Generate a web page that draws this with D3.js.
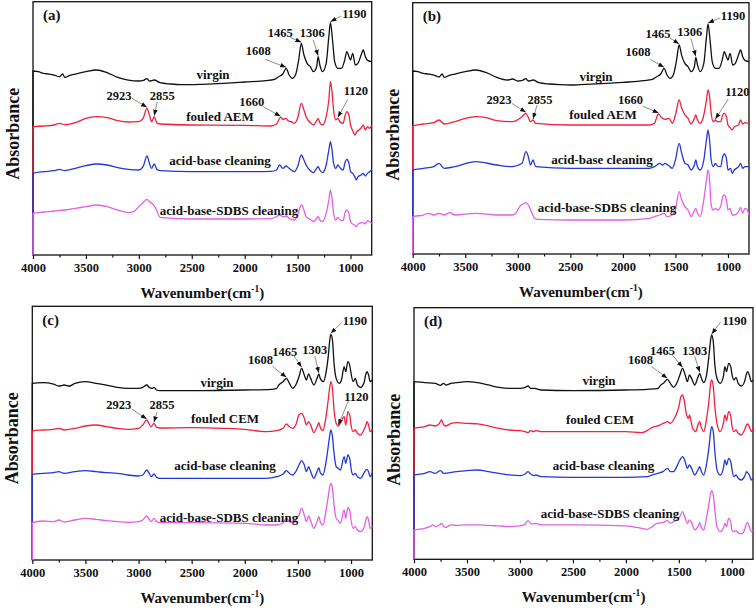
<!DOCTYPE html>
<html><head><meta charset="utf-8">
<script src="https://cdn.jsdelivr.net/npm/d3@7"></script>
<style>body{margin:0;background:#fff}svg{display:block}</style>
</head><body>
<svg id="chart" width="756" height="611"></svg>
<script>
// ---------------- data ----------------
const majorTicks = [4000,3500,3000,2500,2000,1500,1000];
const minorTicks = [3750,3250,2750,2250,1750,1250];
const panelTags = ["(a)","(b)","(c)","(d)"];
const namesAEM = ["virgin","fouled AEM","acid-base cleaning","acid-base-SDBS cleaning"];
const namesCEM = ["virgin","fouled CEM","acid-base cleaning","acid-base-SDBS cleaning"];
const xTitle = "Wavenumber(cm";
const yTitle = "Absorbance";

// (a) AEM
const a_virgin = [[4000,.552],[3950,.550],[3900,.545],[3850,.543],[3800,.540],[3750,.535],[3720,.543],[3700,.533],[3650,.539],[3600,.543],[3500,.550],[3400,.555],[3300,.547],[3200,.533],[3100,.525],[3000,.522],[2950,.525],[2923,.529],[2900,.522],[2855,.525],[2800,.517],[2700,.513],[2600,.511],[2500,.511],[2400,.512],[2200,.515],[2000,.519],[1800,.523],[1720,.527],[1680,.535],[1640,.543],[1608,.560],[1580,.540],[1550,.530],[1520,.540],[1490,.585],[1465,.635],[1440,.600],[1410,.575],[1380,.565],[1350,.550],[1320,.565],[1306,.595],[1290,.570],[1265,.550],[1230,.575],[1205,.655],[1190,.697],[1170,.645],[1150,.580],[1120,.560],[1085,.560],[1055,.585],[1035,.610],[1015,.595],[1000,.585],[980,.605],[955,.570],[930,.575],[900,.600],[880,.615],[860,.595],[835,.583],[800,.580]];
const a_fouled = [[4000,.385],[3900,.387],[3800,.390],[3750,.395],[3700,.391],[3600,.397],[3500,.410],[3400,.415],[3300,.412],[3200,.403],[3100,.399],[3000,.400],[2960,.410],[2923,.440],[2900,.420],[2880,.400],[2855,.415],[2830,.397],[2800,.393],[2500,.390],[2000,.389],[1750,.387],[1700,.393],[1660,.413],[1640,.407],[1608,.410],[1590,.403],[1560,.400],[1530,.395],[1500,.410],[1465,.455],[1440,.435],[1420,.415],[1380,.397],[1350,.390],[1320,.403],[1306,.410],[1290,.397],[1265,.390],[1230,.415],[1205,.465],[1190,.520],[1175,.490],[1160,.435],[1140,.405],[1120,.410],[1100,.400],[1070,.395],[1050,.420],[1035,.430],[1015,.420],[1000,.390],[990,.380],[975,.370],[960,.360],[940,.370],[920,.375],[890,.385],[880,.390],[860,.375],[840,.385],[820,.380],[800,.390]];
const a_acidbase = [[4000,.245],[3900,.250],[3800,.253],[3750,.257],[3700,.253],[3600,.260],[3500,.268],[3400,.273],[3300,.270],[3200,.262],[3100,.257],[3000,.255],[2960,.265],[2923,.297],[2900,.275],[2880,.260],[2855,.273],[2830,.257],[2800,.253],[2500,.250],[2000,.250],[1750,.251],[1700,.255],[1670,.270],[1640,.260],[1608,.267],[1580,.260],[1530,.250],[1500,.265],[1465,.300],[1440,.285],[1420,.270],[1380,.253],[1350,.247],[1320,.260],[1306,.265],[1290,.255],[1265,.247],[1230,.270],[1205,.315],[1190,.340],[1175,.315],[1160,.275],[1140,.260],[1120,.270],[1100,.262],[1070,.255],[1050,.280],[1035,.287],[1015,.275],[1000,.250],[980,.245],[960,.235],[945,.225],[930,.235],[900,.240],[880,.245],[860,.237],[840,.245],[820,.250],[800,.255]];
const a_sdbs = [[4000,.125],[3900,.129],[3800,.132],[3700,.135],[3600,.140],[3500,.145],[3400,.150],[3300,.145],[3200,.135],[3100,.127],[3050,.130],[3000,.145],[2960,.157],[2923,.167],[2900,.160],[2870,.153],[2840,.140],[2800,.113],[2500,.108],[2000,.108],[1750,.109],[1700,.115],[1670,.120],[1640,.115],[1608,.117],[1580,.110],[1530,.105],[1500,.120],[1465,.150],[1440,.135],[1420,.115],[1380,.107],[1350,.100],[1320,.110],[1306,.115],[1290,.105],[1265,.100],[1230,.125],[1205,.165],[1190,.195],[1175,.170],[1160,.125],[1140,.105],[1120,.113],[1100,.105],[1070,.103],[1050,.130],[1035,.135],[1015,.125],[1000,.100],[980,.093],[960,.090],[945,.085],[920,.095],[880,.097],[860,.093],[840,.103],[820,.100],[800,.095]];

// (b) AEM
const b_virgin = [[4000,.549],[3950,.547],[3900,.542],[3850,.540],[3800,.537],[3750,.531],[3720,.540],[3700,.530],[3650,.536],[3600,.540],[3500,.547],[3400,.552],[3300,.544],[3200,.530],[3100,.522],[3050,.525],[3000,.519],[2950,.522],[2923,.526],[2900,.519],[2855,.522],[2800,.514],[2700,.510],[2600,.508],[2500,.507],[2400,.508],[2200,.511],[2000,.515],[1800,.520],[1720,.524],[1680,.532],[1640,.540],[1608,.557],[1580,.537],[1550,.527],[1520,.537],[1490,.580],[1465,.627],[1440,.595],[1410,.572],[1380,.562],[1350,.547],[1320,.562],[1306,.590],[1290,.567],[1265,.547],[1230,.572],[1205,.650],[1190,.690],[1170,.640],[1150,.577],[1120,.557],[1085,.557],[1055,.582],[1035,.607],[1015,.592],[1000,.582],[980,.602],[955,.567],[930,.572],[900,.597],[880,.612],[860,.592],[835,.580],[800,.577]];
const b_fouled = [[4000,.384],[3900,.390],[3800,.394],[3750,.402],[3700,.390],[3600,.397],[3500,.407],[3400,.412],[3300,.409],[3200,.400],[3050,.397],[2960,.412],[2923,.422],[2900,.410],[2880,.397],[2855,.402],[2830,.392],[2500,.387],[2000,.387],[1750,.387],[1700,.392],[1670,.417],[1660,.420],[1640,.412],[1600,.404],[1560,.407],[1530,.392],[1500,.417],[1465,.462],[1440,.437],[1410,.417],[1380,.407],[1350,.390],[1320,.407],[1306,.417],[1290,.402],[1265,.392],[1230,.417],[1205,.462],[1190,.492],[1175,.472],[1160,.422],[1140,.397],[1120,.402],[1100,.397],[1070,.397],[1050,.417],[1035,.422],[1015,.412],[1000,.387],[975,.377],[960,.372],[940,.382],[900,.387],[880,.402],[860,.390],[840,.394],[800,.392]];
const b_acidbase = [[4000,.252],[3900,.257],[3800,.262],[3750,.272],[3700,.257],[3600,.262],[3400,.277],[3200,.267],[3050,.262],[2960,.272],[2923,.307],[2900,.292],[2880,.267],[2855,.282],[2830,.262],[2500,.257],[1750,.257],[1700,.262],[1650,.272],[1620,.267],[1600,.272],[1560,.264],[1530,.257],[1500,.282],[1465,.332],[1440,.302],[1410,.272],[1380,.267],[1350,.252],[1320,.267],[1306,.282],[1290,.262],[1265,.252],[1230,.282],[1205,.342],[1190,.372],[1175,.342],[1160,.282],[1140,.262],[1120,.272],[1100,.264],[1070,.262],[1050,.292],[1035,.300],[1015,.287],[1000,.252],[975,.257],[960,.242],[940,.252],[900,.262],[880,.272],[860,.257],[840,.262],[800,.262]];
const b_sdbs = [[4000,.112],[3900,.117],[3850,.122],[3800,.117],[3750,.122],[3700,.117],[3650,.124],[3600,.117],[3400,.122],[3200,.117],[3050,.117],[3020,.122],[3000,.132],[2970,.147],[2950,.150],[2923,.154],[2900,.147],[2870,.127],[2840,.107],[2800,.104],[2500,.102],[2000,.102],[1750,.107],[1700,.112],[1650,.117],[1608,.122],[1580,.112],[1530,.117],[1500,.132],[1465,.187],[1440,.162],[1410,.142],[1380,.132],[1350,.112],[1320,.130],[1306,.137],[1290,.122],[1265,.112],[1230,.162],[1205,.222],[1190,.252],[1175,.222],[1160,.147],[1140,.132],[1120,.137],[1100,.132],[1070,.142],[1050,.172],[1035,.177],[1015,.162],[1000,.132],[980,.137],[960,.117],[940,.117],[900,.127],[880,.140],[860,.122],[840,.137],[820,.134],[800,.117]];

// (c) CEM
const c_virgin = [[4000,.530],[3900,.532],[3800,.528],[3750,.522],[3700,.525],[3650,.522],[3600,.530],[3500,.535],[3400,.530],[3300,.525],[3200,.518],[3100,.515],[3000,.515],[2960,.518],[2923,.525],[2900,.518],[2870,.515],[2855,.518],[2830,.510],[2800,.508],[2500,.508],[2000,.510],[1750,.512],[1700,.515],[1680,.525],[1640,.535],[1608,.545],[1580,.530],[1550,.515],[1520,.525],[1490,.550],[1465,.575],[1440,.555],[1420,.540],[1400,.558],[1380,.545],[1350,.525],[1320,.545],[1303,.558],[1290,.545],[1260,.535],[1240,.555],[1215,.610],[1200,.660],[1190,.677],[1175,.660],[1160,.590],[1140,.545],[1110,.530],[1090,.540],[1065,.580],[1050,.565],[1030,.595],[1010,.580],[1000,.560],[980,.535],[960,.545],[940,.525],[910,.518],[880,.530],[860,.558],[850,.565],[835,.555],[820,.535],[800,.540]];
const c_fouled = [[4000,.387],[3900,.390],[3800,.392],[3750,.395],[3700,.390],[3600,.395],[3500,.402],[3400,.405],[3300,.400],[3200,.395],[3100,.392],[3000,.395],[2960,.405],[2923,.420],[2900,.408],[2880,.400],[2855,.410],[2830,.398],[2800,.396],[2500,.397],[2200,.395],[2000,.392],[1800,.385],[1700,.388],[1640,.395],[1608,.408],[1580,.400],[1550,.395],[1520,.405],[1490,.435],[1465,.440],[1440,.425],[1420,.405],[1400,.415],[1380,.405],[1350,.382],[1320,.400],[1303,.412],[1290,.398],[1265,.388],[1240,.420],[1215,.480],[1200,.520],[1190,.535],[1175,.515],[1160,.450],[1140,.410],[1120,.402],[1100,.410],[1065,.430],[1050,.405],[1030,.445],[1010,.430],[1000,.405],[980,.385],[960,.390],[940,.380],[910,.375],[880,.390],[860,.405],[850,.415],[835,.405],[820,.385],[800,.390]];
const c_acidbase = [[4000,.257],[3900,.260],[3800,.262],[3750,.265],[3700,.260],[3600,.265],[3500,.268],[3400,.265],[3300,.262],[3200,.260],[3100,.255],[3000,.252],[2960,.255],[2923,.270],[2900,.260],[2880,.250],[2855,.258],[2830,.248],[2800,.245],[2500,.245],[2000,.245],[1800,.245],[1700,.250],[1640,.258],[1608,.268],[1580,.260],[1550,.255],[1520,.265],[1490,.285],[1465,.298],[1440,.285],[1420,.265],[1400,.280],[1380,.265],[1350,.245],[1320,.265],[1303,.277],[1290,.262],[1265,.255],[1240,.285],[1215,.340],[1200,.375],[1190,.390],[1175,.370],[1160,.320],[1140,.280],[1120,.275],[1100,.270],[1065,.310],[1050,.290],[1030,.315],[1010,.300],[1000,.275],[980,.255],[960,.260],[940,.250],[910,.245],[880,.260],[860,.270],[850,.272],[835,.265],[820,.250],[800,.262]];
const c_sdbs = [[4000,.112],[3900,.117],[3800,.115],[3750,.120],[3700,.114],[3600,.120],[3500,.125],[3400,.122],[3300,.118],[3200,.115],[3100,.113],[3000,.115],[2960,.120],[2923,.132],[2900,.122],[2880,.115],[2855,.125],[2830,.115],[2800,.112],[2500,.112],[2000,.110],[1800,.105],[1700,.105],[1640,.112],[1608,.125],[1580,.115],[1550,.112],[1520,.120],[1490,.135],[1465,.155],[1440,.135],[1420,.115],[1400,.132],[1380,.118],[1350,.095],[1320,.115],[1303,.130],[1290,.115],[1265,.105],[1240,.140],[1215,.190],[1200,.220],[1190,.230],[1175,.215],[1160,.165],[1140,.125],[1120,.118],[1100,.110],[1065,.150],[1050,.125],[1030,.158],[1010,.145],[1000,.120],[980,.095],[960,.100],[940,.090],[910,.085],[880,.095],[860,.120],[850,.130],[835,.120],[820,.095],[800,.100]];

// (d) CEM
const d_virgin = [[4000,.533],[3900,.530],[3800,.528],[3750,.522],[3720,.528],[3700,.523],[3650,.528],[3600,.530],[3500,.533],[3400,.530],[3300,.523],[3200,.516],[3100,.513],[3000,.513],[2950,.516],[2923,.520],[2900,.513],[2860,.513],[2830,.510],[2800,.508],[2500,.506],[2000,.508],[1800,.510],[1700,.512],[1670,.523],[1640,.530],[1608,.540],[1580,.528],[1550,.516],[1520,.528],[1490,.553],[1465,.573],[1440,.553],[1420,.533],[1400,.553],[1380,.543],[1350,.523],[1320,.546],[1303,.558],[1290,.546],[1265,.530],[1240,.550],[1215,.613],[1200,.658],[1190,.673],[1175,.653],[1160,.583],[1140,.543],[1110,.528],[1080,.548],[1065,.578],[1050,.563],[1030,.588],[1010,.578],[1000,.558],[980,.538],[960,.546],[940,.528],[910,.520],[880,.533],[860,.558],[850,.563],[835,.553],[815,.533],[800,.538]];
const d_fouled = [[4000,.393],[3900,.398],[3850,.403],[3800,.400],[3760,.408],[3740,.418],[3720,.403],[3700,.400],[3650,.408],[3600,.410],[3500,.408],[3400,.406],[3300,.400],[3200,.393],[3100,.388],[3000,.386],[2950,.383],[2923,.380],[2900,.386],[2870,.383],[2850,.386],[2800,.383],[2500,.383],[2000,.383],[1850,.380],[1800,.386],[1750,.396],[1700,.400],[1660,.406],[1630,.410],[1608,.413],[1580,.408],[1550,.418],[1520,.438],[1500,.458],[1480,.488],[1465,.493],[1450,.478],[1430,.438],[1410,.423],[1400,.433],[1390,.423],[1370,.393],[1340,.383],[1320,.403],[1303,.413],[1290,.398],[1265,.383],[1240,.418],[1215,.478],[1200,.528],[1190,.538],[1175,.518],[1160,.458],[1140,.408],[1110,.383],[1080,.408],[1065,.433],[1050,.416],[1030,.443],[1010,.430],[1000,.403],[980,.383],[960,.388],[940,.378],[910,.373],[880,.388],[860,.403],[850,.406],[835,.398],[815,.383],[800,.393]];
const d_acidbase = [[4000,.253],[3900,.258],[3850,.263],[3800,.258],[3750,.266],[3720,.258],[3600,.263],[3500,.266],[3400,.268],[3300,.263],[3200,.258],[3100,.253],[3000,.251],[2950,.256],[2923,.263],[2900,.256],[2870,.251],[2850,.253],[2800,.248],[2500,.246],[2000,.246],[1800,.248],[1750,.253],[1700,.258],[1650,.263],[1608,.273],[1580,.263],[1550,.263],[1520,.278],[1490,.298],[1465,.308],[1440,.293],[1420,.273],[1400,.283],[1380,.273],[1350,.253],[1320,.268],[1303,.278],[1290,.266],[1265,.253],[1240,.283],[1215,.338],[1200,.383],[1190,.398],[1175,.383],[1160,.323],[1140,.268],[1110,.253],[1080,.273],[1065,.298],[1050,.283],[1030,.303],[1010,.293],[1000,.273],[980,.248],[960,.253],[940,.243],[910,.238],[880,.248],[860,.263],[850,.260],[835,.253],[815,.238],[800,.243]];
const d_sdbs = [[4000,.088],[3900,.093],[3850,.098],[3820,.103],[3800,.098],[3760,.103],[3740,.108],[3720,.098],[3700,.096],[3650,.103],[3600,.102],[3500,.103],[3400,.103],[3300,.102],[3200,.100],[3100,.098],[3000,.100],[2950,.106],[2923,.116],[2900,.108],[2870,.106],[2850,.108],[2800,.103],[2500,.103],[2000,.100],[1900,.096],[1800,.090],[1750,.098],[1720,.106],[1700,.108],[1650,.110],[1608,.116],[1580,.108],[1550,.113],[1520,.118],[1490,.128],[1465,.143],[1440,.123],[1420,.108],[1400,.118],[1380,.110],[1350,.088],[1320,.098],[1303,.110],[1290,.098],[1265,.088],[1240,.123],[1215,.168],[1200,.198],[1190,.206],[1175,.193],[1160,.148],[1140,.098],[1110,.083],[1080,.093],[1065,.108],[1050,.098],[1030,.123],[1010,.113],[1000,.088],[980,.083],[960,.086],[940,.080],[910,.076],[880,.088],[860,.108],[850,.110],[835,.098],[815,.083],[800,.088]];

// peak annotations: label, series index, wavenumber
const peaksA = [["1190",0,1190],["1465",0,1465],["1306",0,1306],["1608",0,1608],["2923",1,2923],["2855",1,2855],["1660",1,1660],["1120",1,1120]];
const peaksB = [["1190",0,1190],["1465",0,1465],["1306",0,1306],["1608",0,1608],["2923",1,2923],["2855",1,2855],["1660",1,1660],["1120",1,1120]];
const peaksC = [["1190",0,1190],["1465",0,1465],["1303",0,1303],["1608",0,1608],["2923",1,2923],["2855",1,2855],["1120",1,1120]];
const peaksD = [["1190",0,1190],["1465",0,1465],["1303",0,1303],["1608",0,1608]];

// ---------------- layout / style ----------------
const colors = ["#111111","#f2203f","#2437d8","#e35fe6"];
const PXPERUNIT = 333.3;
const layout = [
  {box:{l:33,r:371.7,t:1.7,b:255},
   names:namesAEM, series:[a_virgin,a_fouled,a_acidbase,a_sdbs], peaks:peaksA,
   nameAt:[[180,77.3],[187,119.3],[187,163.3],[196,213.3]],
   peakOff:[[[10.6,-5.7],[24,-8]],[[-11,-5],[-21,-9]],[[-5,-16],[-6,-23]],[[-21,-8],[-28,-16]],[[-15,-9],[-28,-11]],[[3,-14],[8,-20]],[[-18,-10],[-29,-14]],[[10,-18],[18,-26]]]},
  {box:{l:412.7,r:749,t:2.7,b:254},
   names:namesAEM, series:[b_virgin,b_fouled,b_acidbase,b_sdbs], peaks:peaksB,
   nameAt:[[183.3,78.3],[190.3,116.3],[189.3,161.3],[194.3,209.3]],
   peakOff:[[[12,-5],[25,-7]],[[-9,-6],[-21,-10]],[[-5,-18],[-6,-24]],[[-14,-8],[-26,-15]],[[-14,-9],[-27,-12]],[[4,-14],[7,-19]],[[-16,-7],[-28,-13]],[[13,-20],[22,-27]]]},
  {box:{l:32.3,r:372.3,t:306.3,b:560},
   names:namesCEM, series:[c_virgin,c_fouled,c_acidbase,c_sdbs], peaks:peaksC,
   nameAt:[[184.7,80.7],[192.7,116.7],[192.7,163.7],[196.7,215.7]],
   peakOff:[[[11,-11],[24,-12]],[[-8,-12],[-17,-15]],[[-4,-17],[-4,-23]],[[-14,-11],[-26,-17]],[[-15,-10],[-28,-14]],[[3,-10],[8,-17]],[[10,-24],[18,-28]]]},
  {box:{l:414,r:753,t:307.7,b:559.3},
   names:namesCEM, series:[d_virgin,d_fouled,d_acidbase,d_sdbs], peaks:peaksD,
   nameAt:[[185,77.3],[186,116.3],[189.5,162.3],[196,210.3]],
   peakOff:[[[9,-12],[23,-13]],[[-10,-12],[-20,-16]],[[-5,-16],[-5,-21]],[[-16,-12],[-27,-18]]]}
];
const FONT = "'Liberation Serif','Times New Roman',Times,serif";

const svg = d3.select("#chart");
svg.append("rect").attr("width",756).attr("height",611).attr("fill","#fff");
const defs = svg.append("defs");
defs.append("marker").attr("id","ah").attr("viewBox","0 0 10 10").attr("refX",10).attr("refY",5)
  .attr("markerWidth",6).attr("markerHeight",6).attr("markerUnits","userSpaceOnUse").attr("orient","auto")
  .append("path").attr("d","M0,1.2L10,5L0,8.8Z").attr("fill","#111");

function valueAt(series, wn){
  for(let i=0;i<series.length-1;i++){
    const [w0,v0]=series[i],[w1,v1]=series[i+1];
    if(wn<=w0 && wn>=w1){ const t=(w0-wn)/(w0-w1); return v0+t*(v1-v0); }
  }
  return series[series.length-1][1];
}

layout.forEach((p,pi)=>{
  const {l,r,t,b} = p.box;
  const x = d3.scaleLinear().domain([4000,800]).range([l,r]);
  const y = d3.scaleLinear().domain([0,(b-t)/PXPERUNIT]).range([b,t]);
  const g = svg.append("g");

  // frame
  g.append("rect").attr("x",l).attr("y",t).attr("width",r-l).attr("height",b-t)
    .attr("fill","none").attr("stroke","#111").attr("stroke-width",1.3);

  // x axis
  const ax = d3.axisBottom(x).tickValues(majorTicks).tickSize(4).tickPadding(4).tickFormat(d3.format("d"));
  const axG = g.append("g").attr("transform",`translate(0,${b})`).call(ax);
  axG.select(".domain").remove();
  axG.selectAll(".tick line").attr("stroke","#111").attr("stroke-width",1.2);
  axG.selectAll(".tick text").attr("font-family",FONT).attr("font-weight","bold").attr("font-size",12.5).attr("fill","#111");
  const axm = d3.axisBottom(x).tickValues(minorTicks).tickSize(2.5).tickFormat("");
  const axmG = g.append("g").attr("transform",`translate(0,${b})`).call(axm);
  axmG.select(".domain").remove();
  axmG.selectAll(".tick line").attr("stroke","#111").attr("stroke-width",1.2);

  // curves (each starts with a drop from baseline at 4000)
  const line = d3.line().x(d=>x(d[0])).y(d=>y(d[1])).curve(d3.curveMonotoneX);
  p.series.forEach((s,si)=>{
    const pts = [[4000,0]].concat(s);
    g.append("path").datum(pts).attr("d",line).attr("fill","none")
      .attr("stroke",colors[si]).attr("stroke-width",1.3).attr("stroke-linejoin","round");
  });

  // series names
  p.names.forEach((n,i)=>{
    g.append("text").attr("x",l+p.nameAt[i][0]).attr("y",t+p.nameAt[i][1]).attr("text-anchor","middle")
      .attr("font-family",FONT).attr("font-weight","bold").attr("font-size",13).attr("fill","#111").text(n);
  });

  // peak annotations
  p.peaks.forEach((pk,i)=>{
    const [lab,si,wn]=pk;
    const tipX = x(wn), tipY = y(valueAt(p.series[si],wn)) - 1;
    const [tail,txt] = p.peakOff[i];
    g.append("line").attr("x1",tipX+tail[0]).attr("y1",tipY+tail[1]).attr("x2",tipX).attr("y2",tipY)
      .attr("stroke","#808080").attr("stroke-width",0.9).attr("marker-end","url(#ah)");
    g.append("text").attr("x",tipX+txt[0]).attr("y",tipY+txt[1]).attr("text-anchor","middle")
      .attr("dominant-baseline","central").attr("font-family",FONT).attr("font-weight","bold")
      .attr("font-size",12.5).attr("fill","#111").text(lab);
  });

  // panel tag
  g.append("text").attr("x",l+10).attr("y",t+18.5).attr("font-family",FONT).attr("font-weight","bold")
    .attr("font-size",15).attr("fill","#111").text(panelTags[pi]);

  // y title
  g.append("text").attr("transform",`translate(${l-20},${t+132}) rotate(-90)`).attr("text-anchor","middle")
    .attr("dominant-baseline","central").attr("font-family",FONT).attr("font-weight","bold")
    .attr("font-size",18).attr("fill","#111").text(yTitle);

  // x title
  const xt = g.append("text").attr("x",(l+r)/2).attr("y",b+43).attr("text-anchor","middle")
    .attr("font-family",FONT).attr("font-weight","bold").attr("font-size",15).attr("fill","#111");
  xt.append("tspan").text(xTitle);
  xt.append("tspan").attr("dy",-6).attr("font-size",9.5).text("-1");
  xt.append("tspan").attr("dy",6).text(")");
});
</script>
</body></html>
